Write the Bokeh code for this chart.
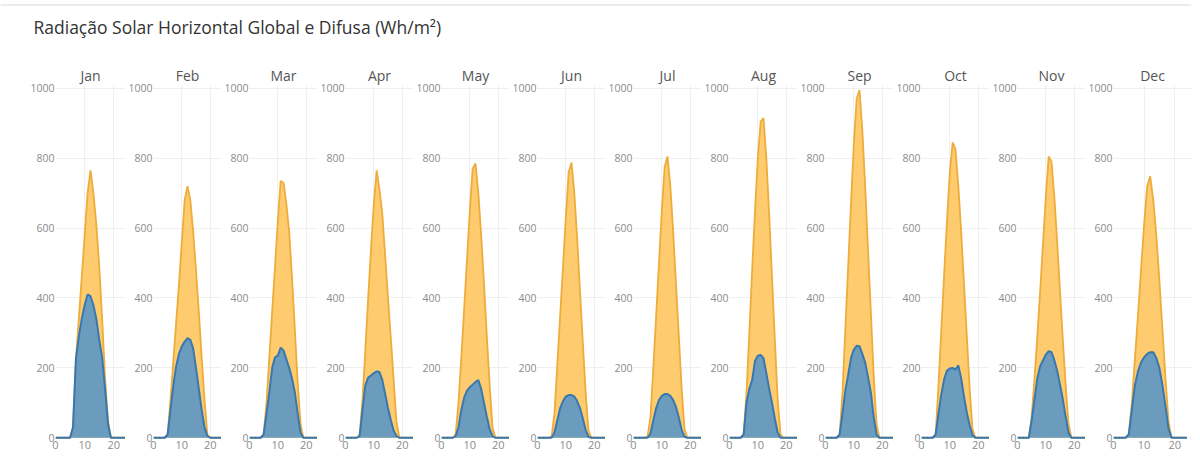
from bokeh.plotting import figure
from bokeh.layouts import row, column
from bokeh.models import Range1d, Label, FixedTicker, Span
from bokeh.embed import file_html
from bokeh.resources import INLINE

TITLE = "Radiação Solar Horizontal Global e Difusa (Wh/m²)"
MONTHS = ["Jan", "Feb", "Mar", "Apr", "May", "Jun", "Jul", "Aug", "Sep", "Oct", "Nov", "Dec"]
HOURS = list(range(25))
Y_TICKS = [0, 200, 400, 600, 800, 1000]
X_TICKS = [0, 10, 20]

jan_global = [0, 0, 0, 0, 0, 0, 30, 225, 340, 460, 580, 700, 765, 700, 610, 490, 340, 170, 50, 0, 0, 0, 0, 0, 0]
jan_diffuse = [0, 0, 0, 0, 0, 0, 30, 225, 290, 340, 380, 410, 405, 380, 340, 280, 230, 140, 40, 0, 0, 0, 0, 0, 0]
feb_global = [0, 0, 0, 0, 0, 10, 110, 220, 330, 440, 560, 680, 720, 680, 590, 480, 360, 230, 110, 10, 0, 0, 0, 0, 0]
feb_diffuse = [0, 0, 0, 0, 0, 10, 80, 150, 205, 240, 262, 275, 285, 280, 255, 200, 140, 80, 30, 5, 0, 0, 0, 0, 0]
mar_global = [0, 0, 0, 0, 0, 10, 100, 230, 360, 490, 620, 735, 730, 670, 590, 460, 310, 160, 40, 0, 0, 0, 0, 0, 0]
mar_diffuse = [0, 0, 0, 0, 0, 10, 70, 130, 200, 230, 235, 258, 250, 225, 200, 170, 130, 70, 15, 0, 0, 0, 0, 0, 0]
apr_global = [0, 0, 0, 0, 0, 10, 110, 250, 400, 540, 670, 765, 710, 640, 520, 400, 285, 165, 45, 0, 0, 0, 0, 0, 0]
apr_diffuse = [0, 0, 0, 0, 0, 5, 80, 150, 172, 178, 185, 190, 188, 165, 125, 85, 50, 20, 5, 0, 0, 0, 0, 0, 0]
may_global = [0, 0, 0, 0, 0, 10, 100, 230, 370, 510, 650, 770, 785, 700, 580, 440, 290, 150, 30, 0, 0, 0, 0, 0, 0]
may_diffuse = [0, 0, 0, 0, 0, 5, 30, 80, 115, 135, 145, 152, 160, 165, 140, 100, 60, 25, 5, 0, 0, 0, 0, 0, 0]
jun_global = [0, 0, 0, 0, 0, 5, 70, 210, 350, 490, 630, 760, 788, 700, 570, 420, 270, 130, 20, 0, 0, 0, 0, 0, 0]
jun_diffuse = [0, 0, 0, 0, 0, 0, 15, 50, 85, 105, 118, 122, 122, 118, 105, 85, 55, 22, 3, 0, 0, 0, 0, 0, 0]
jul_global = [0, 0, 0, 0, 0, 5, 60, 200, 350, 500, 650, 775, 805, 720, 590, 440, 290, 140, 25, 0, 0, 0, 0, 0, 0]
jul_diffuse = [0, 0, 0, 0, 0, 0, 12, 50, 85, 108, 120, 125, 125, 120, 108, 88, 58, 22, 3, 0, 0, 0, 0, 0, 0]
aug_global = [0, 0, 0, 0, 0, 10, 130, 300, 480, 650, 800, 905, 915, 800, 640, 460, 280, 110, 10, 0, 0, 0, 0, 0, 0]
aug_diffuse = [0, 0, 0, 0, 0, 10, 100, 140, 165, 220, 235, 237, 228, 185, 140, 100, 55, 15, 0, 0, 0, 0, 0, 0, 0]
sep_global = [0, 0, 0, 0, 0, 10, 130, 310, 490, 670, 840, 970, 995, 880, 720, 540, 360, 180, 40, 0, 0, 0, 0, 0, 0]
sep_diffuse = [0, 0, 0, 0, 0, 10, 70, 135, 180, 228, 252, 263, 262, 240, 215, 175, 130, 60, 10, 0, 0, 0, 0, 0, 0]
oct_global = [0, 0, 0, 0, 0, 10, 150, 310, 470, 620, 760, 845, 825, 720, 590, 440, 290, 140, 25, 0, 0, 0, 0, 0, 0]
oct_diffuse = [0, 0, 0, 0, 0, 10, 70, 125, 168, 192, 198, 200, 195, 207, 170, 118, 72, 35, 8, 0, 0, 0, 0, 0, 0]
nov_global = [0, 0, 0, 0, 0, 60, 170, 290, 420, 555, 690, 805, 790, 690, 560, 420, 280, 150, 40, 0, 0, 0, 0, 0, 0]
nov_diffuse = [0, 0, 0, 0, 0, 50, 110, 170, 205, 222, 238, 248, 245, 222, 192, 152, 110, 60, 15, 0, 0, 0, 0, 0, 0]
dec_global = [0, 0, 0, 0, 0, 10, 100, 225, 350, 480, 610, 720, 748, 680, 580, 450, 310, 170, 45, 0, 0, 0, 0, 0, 0]
dec_diffuse = [0, 0, 0, 0, 0, 10, 80, 150, 190, 215, 230, 240, 245, 245, 228, 200, 150, 90, 25, 0, 0, 0, 0, 0, 0]

GLOBAL = [jan_global, feb_global, mar_global, apr_global, may_global, jun_global,
          jul_global, aug_global, sep_global, oct_global, nov_global, dec_global]
DIFFUSE = [jan_diffuse, feb_diffuse, mar_diffuse, apr_diffuse, may_diffuse, jun_diffuse,
           jul_diffuse, aug_diffuse, sep_diffuse, oct_diffuse, nov_diffuse, dec_diffuse]

FONT = "Open Sans"
ORANGE_FILL = "#fecb6e"
ORANGE_LINE = "#eeac3a"
BLUE_FILL = "#6b9cbd"
BLUE_LINE = "#3778b0"
GRID = "#efefef"
TICK = "#8c8c8c"

# Title strip
tfig = figure(width=1191, height=53, output_backend="svg", toolbar_location=None,
              x_range=Range1d(0, 1), y_range=Range1d(0, 1),
              x_axis_type=None, y_axis_type=None,
              min_border=0, outline_line_color=None)
tfig.xgrid.visible = False
tfig.ygrid.visible = False
tfig.add_layout(Span(location=0.915, dimension="width", line_color="#e6e6e6", line_width=1.5))
tfig.add_layout(Label(x=33, y=27, x_units="screen", y_units="screen", text=TITLE,
                      text_font=FONT, text_font_size="17.5px", text_color="#333333",
                      text_baseline="alphabetic"))

panels = []
n = len(MONTHS)
for i, m in enumerate(MONTHS):
    left = 55 if i == 0 else 26
    frame_w = 80 if i == n - 1 else 70
    x_end = 25.5 if i == n - 1 else 24
    p = figure(width=left + frame_w, height=400, output_backend="svg", toolbar_location=None,
               x_range=Range1d(0, x_end), y_range=Range1d(-5, 1008),
               min_border_left=left, min_border_right=0, min_border_top=32,
               min_border_bottom=14, outline_line_color=None, title=m)
    p.title.align = "center"
    p.title.text_font = FONT
    p.title.text_font_size = "14px"
    p.title.text_font_style = "normal"
    p.title.text_color = "#555555"
    p.title.standoff = 2

    p.varea(x=HOURS, y1=0, y2=GLOBAL[i], fill_color=ORANGE_FILL, fill_alpha=1.0)
    p.line(x=HOURS, y=GLOBAL[i], line_color=ORANGE_LINE, line_width=1.8)
    p.varea(x=HOURS, y1=0, y2=DIFFUSE[i], fill_color=BLUE_FILL, fill_alpha=1.0)
    p.line(x=HOURS, y=DIFFUSE[i], line_color=BLUE_LINE, line_width=2)

    p.yaxis.ticker = FixedTicker(ticks=Y_TICKS)
    p.xaxis.ticker = FixedTicker(ticks=X_TICKS)
    for ax in (p.xaxis[0], p.yaxis[0]):
        ax.axis_line_color = None
        ax.major_tick_line_color = None
        ax.minor_tick_line_color = None
        ax.major_tick_out = 0
        ax.major_tick_in = 0
        ax.major_label_text_font = FONT
        ax.major_label_text_color = TICK
    p.yaxis.major_label_text_font_size = "10.5px"
    p.xaxis.major_label_text_font_size = "11px"
    p.yaxis.major_label_standoff = 1
    p.xaxis.major_label_standoff = 1
    p.xgrid.ticker = FixedTicker(ticks=X_TICKS)
    p.ygrid.ticker = FixedTicker(ticks=Y_TICKS)
    p.xgrid.grid_line_color = GRID
    p.ygrid.grid_line_color = GRID
    panels.append(p)

layout = column(tfig, row(*panels, spacing=0), spacing=0)
open("out.html", "w").write(file_html(layout, INLINE))
